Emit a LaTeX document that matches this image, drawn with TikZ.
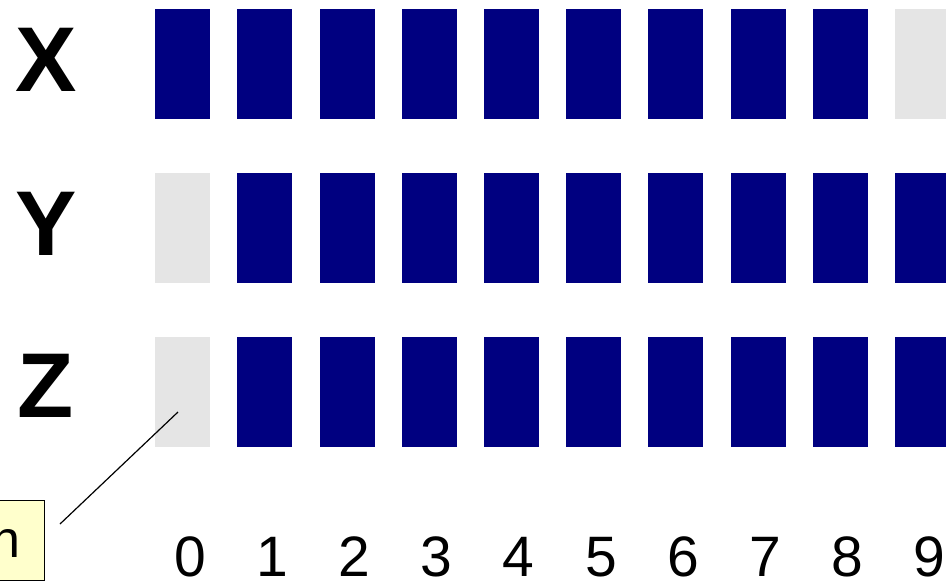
\documentclass[tikz,border=0pt]{standalone}
\usepackage{fontspec}
\setmainfont{Liberation Sans}
\definecolor{navyblk}{HTML}{000080}
\definecolor{lightgr}{HTML}{E5E5E5}
\definecolor{calloutyel}{HTML}{FFFFCC}
\begin{document}
\begin{tikzpicture}[x=1pt,y=-1pt,
  fullbox/.style={fill=navyblk,draw=none,minimum width=55pt,minimum height=110pt,inner sep=0pt,anchor=north west},
  emptybox/.style={fill=lightgr,draw=none,minimum width=55pt,minimum height=110pt,inner sep=0pt,anchor=north west},
  rowlabel/.style={font=\fontsize{92}{92}\selectfont\bfseries,anchor=base,inner sep=0pt},
  idxlabel/.style={font=\fontsize{57}{57}\selectfont,anchor=base,inner sep=0pt},
  callout/.style={fill=calloutyel,draw=black,line width=1.2pt,inner sep=0pt,anchor=north west,minimum width=84pt,minimum height=80pt}
]
\useasboundingbox (0,0) rectangle (946,581);
\begin{scope}
\clip (0,0) rectangle (946,581);
% row labels
\node[rowlabel] (lx) at (46,91) {X};
\node[rowlabel] (ly) at (46,255) {Y};
\node[rowlabel] (lz) at (46,417) {Z};
% row X
\foreach \i in {0,...,8} {\node[fullbox] (x\i) at (155+82.2*\i,9) {};}
\node[emptybox] (x9) at (155+82.2*9,9) {};
% row Y
\node[emptybox] (y0) at (155,173) {};
\foreach \i in {1,...,9} {\node[fullbox] (y\i) at (155+82.2*\i,173) {};}
% row Z
\node[emptybox] (z0) at (155,337) {};
\foreach \i in {1,...,9} {\node[fullbox] (z\i) at (155+82.2*\i,337) {};}
% index labels
\foreach \i in {0,...,9} {\node[idxlabel] (n\i) at (190+82.2*\i,576) {\i};}
% callout
\node[callout] (co) at (-40,500) {};
\node[font=\fontsize{52}{52}\selectfont,anchor=base east,inner sep=0pt] (cotext) at (21,557) {n};
\coordinate (cofree) at (60,524);
\coordinate (cotip) at (178,412);
\draw[line width=1.2pt] (cofree) -- (cotip);
\end{scope}
\end{tikzpicture}
\end{document}
